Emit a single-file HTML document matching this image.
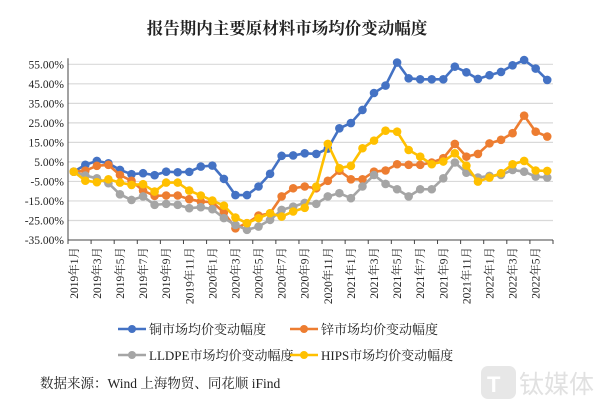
<!DOCTYPE html>
<html><head><meta charset="utf-8">
<style>
html,body{margin:0;padding:0;background:#fff;}
body{width:602px;height:410px;overflow:hidden;position:relative;font-family:"Liberation Serif","Noto Serif CJK SC",serif;}
svg{position:absolute;left:0;top:0;}
</style></head>
<body>
<svg id="chart" width="602" height="410">
<text x="287" y="34" text-anchor="middle" font-size="16.5" font-weight="bold" fill="#222">报告期内主要原材料市场均价变动幅度</text>
<g id="grid"></g>
<g id="yaxis"></g>
<g id="xaxis"></g>
<g id="series"></g>
<g id="legend"></g>
<text x="40" y="388" font-size="13.5" fill="#222">数据来源：Wind 上海物贸、同花顺 iFind</text>
<g opacity="0.35">
<rect x="481" y="366" width="35" height="33" rx="7" fill="#bbb"/>
<text x="487" y="392" font-size="22" font-weight="bold" fill="#fff" font-family="Liberation Sans,sans-serif">T</text>
<text x="519" y="393" font-size="25" fill="#aaa" font-family="Liberation Sans,'Noto Sans CJK SC',sans-serif">钛媒体</text>
</g>
</svg>
<script>
const categories = (function(){const a=[];for(let y=2019;y<=2022;y++)for(let m=1;m<=12;m++){if(y===2022&&m>6)break;a.push(y+'年'+m+'月');}return a;})();
const yTicks = [55,45,35,25,15,5,-5,-15,-25,-35];
const copper = [0,3.5,5.5,4.3,0.9,-1.3,-0.8,-1.8,0,-0.3,-0.1,2.6,3.1,-3.7,-12,-12,-7.6,-1.1,8.1,8.3,9.4,9.1,11.8,22.2,24.9,31.6,40.3,44.1,55.9,47.8,47.3,47.3,47.3,53.8,50.9,47.5,49.4,51.1,54.5,57.2,52.8,47];
const zinc = [0,0.5,3,3.5,-1.7,-4.7,-9.7,-12.4,-12.2,-12.2,-14.1,-15.3,-15.6,-20.9,-29,-26.4,-22.5,-21.3,-12.7,-8.5,-7.6,-8.5,-4.7,0.5,-3.9,-3.9,0,0.6,3.8,3.5,3.5,4.7,6.9,14.2,7.7,9.1,14.5,16.3,19.7,28.7,20.5,18];
const lldpe = [0,-2,-3.4,-5.9,-11.6,-14.5,-12.7,-17,-16.5,-17,-18.7,-18.2,-19.2,-23.8,-27.3,-29.8,-28.1,-24.7,-19.6,-17.9,-16,-16.5,-12.7,-11,-13.6,-7.6,-1.7,-6.3,-9,-12.7,-9,-9,-3.4,4.7,-0.5,-3,-2.2,-1.7,0.9,0,-2.5,-3];
const hips = [0,-4.6,-5.4,-3.9,-5.6,-6.8,-6.4,-10.2,-5.6,-5.6,-9.7,-12.2,-14.8,-17.4,-23.5,-26.4,-23.8,-21.3,-23,-20.4,-18.5,-7.6,14.2,1.8,3,12,15.9,21,20.5,11.1,7.7,3.8,5.2,9.4,3.1,-5.1,-3,-0.8,3.8,5.5,0.6,0.4];
const seriesNames = ['铜市场均价变动幅度','锌市场均价变动幅度','LLDPE市场均价变动幅度','HIPS市场均价变动幅度'];
const seriesColors = ['#4472C4','#ED7D31','#A5A5A5','#FFC000'];
const seriesSlugs = ['copper','zinc','lldpe','hips'];

const NS='http://www.w3.org/2000/svg';
const L=68,R=553,T=64.3,B=240;
const yMin=-35,yMax=55;
function yS(v){return B-(v-yMin)/(yMax-yMin)*(B-T);}
const bw=(R-L)/categories.length;
function xS(i){return L+bw*(i+0.5);}
function mk(tag,attrs,parent){const e=document.createElementNS(NS,tag);for(const k in attrs)e.setAttribute(k,attrs[k]);parent.appendChild(e);return e;}

const grid=document.getElementById('grid'),ya=document.getElementById('yaxis'),xa=document.getElementById('xaxis');
yTicks.forEach(v=>{
  if(v!==yMin){const g=mk('line',{x1:L,x2:R,y1:yS(v),y2:yS(v),stroke:'#d9d9d9','stroke-width':1.2},grid);
  
  }
  const t=mk('text',{x:L-4,y:yS(v)+4,'text-anchor':'end','font-size':11.5,fill:'#222'},ya);
  t.textContent=v.toFixed(2)+'%';
  
  
});
mk('line',{x1:L,x2:L,y1:T-6,y2:B,stroke:'#444','stroke-width':1},ya);
mk('line',{x1:L,x2:R,y1:B,y2:B,stroke:'#444','stroke-width':1},xa);
for(let i=0;i<=categories.length;i+=2){mk('line',{x1:L+bw*i,x2:L+bw*i,y1:B,y2:B+4,stroke:'#444'},xa);}
categories.forEach((c,i)=>{
  if(i%2!==0)return;
  const x=xS(i)+4;
  const t=mk('text',{x:x,y:B+7,transform:'rotate(-90 '+x+' '+(B+7)+')','text-anchor':'end','font-size':11.5,fill:'#222'},xa);
  t.textContent=c;
  
  
});
const sg=document.getElementById('series');
[copper,zinc,lldpe,hips].forEach((data,si)=>{
  const g=mk('g',{},sg);
  
  
  const pl=mk('polyline',{points:data.map((v,i)=>xS(i)+','+yS(v)).join(' '),fill:'none',stroke:seriesColors[si],'stroke-width':2.6,'stroke-linejoin':'round'},g);
  
  
  data.forEach((v,i)=>{
    const c=mk('circle',{cx:xS(i),cy:yS(v),r:4.3,fill:seriesColors[si]},g);
    
    
  });
});
const lg=document.getElementById('legend');
const lpos=[[118,329],[290,329],[118,355],[290,355]];
seriesNames.forEach((n,i)=>{
  const [x,y]=lpos[i];
  const g=mk('g',{},lg);
  
  
  mk('line',{x1:x,x2:x+28,y1:y,y2:y,stroke:seriesColors[i],'stroke-width':2.6},g);
  mk('circle',{cx:x+14,cy:y,r:4,fill:seriesColors[i]},g);
  const t=mk('text',{x:x+31,y:y+5,'font-size':13,fill:'#222'},g);
  t.textContent=n;
});
</script>
</body></html>
